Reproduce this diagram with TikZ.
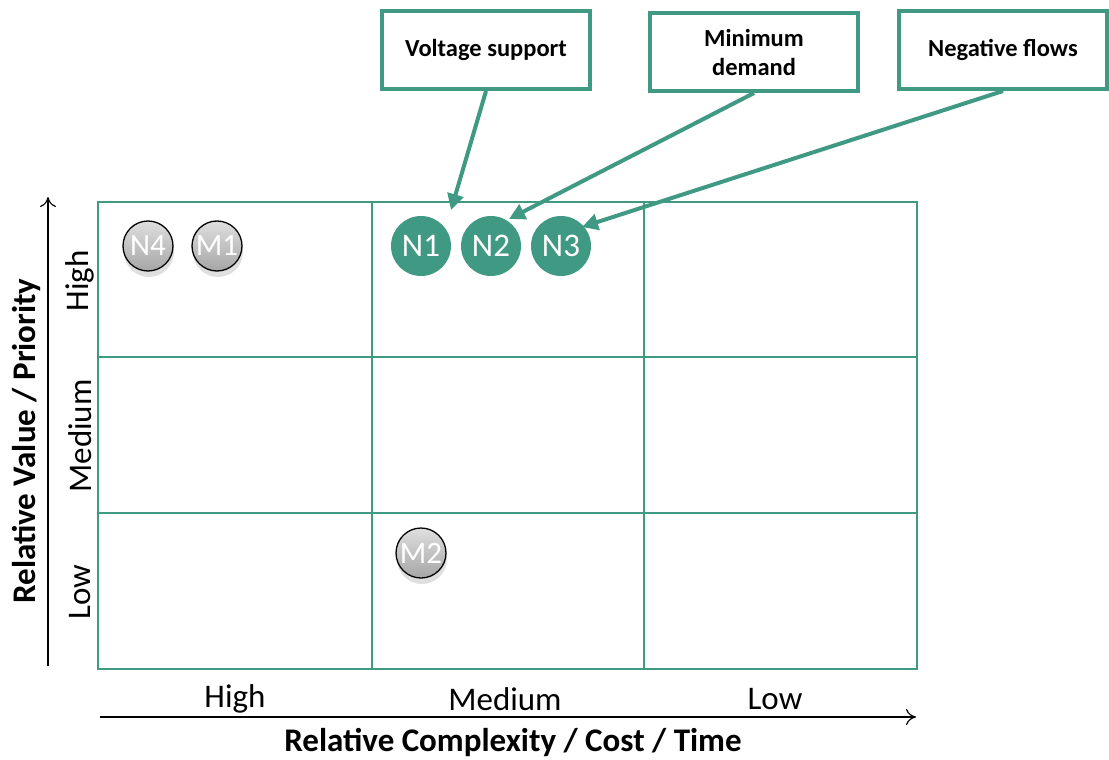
\documentclass[tikz,border=0pt]{standalone}
\usepackage{fontspec}
\setmainfont{Carlito}
\usetikzlibrary{arrows.meta,shadows}
\definecolor{teal1}{RGB}{64,153,131}
\tikzset{
  grid/.style={draw=teal1,line width=1.5pt},
  callout/.style={draw=teal1,line width=4pt,fill=white,minimum width=208pt,minimum height=78pt,align=center,font=\fontsize{24.5}{29}\selectfont\bfseries,text=black},
  pointer/.style={draw=teal1,line width=4pt,-{Triangle[length=16pt,width=16pt]}},
  tealdot/.style={circle,fill=teal1,minimum size=60pt,inner sep=0pt,text=white,font=\fontsize{33}{33}\selectfont},
  graydot/.style={circle,draw=black,line width=1.3pt,top color=gray!25,bottom color=gray!70,minimum size=50pt,inner sep=0pt,text=white,font=\fontsize{31}{31}\selectfont,drop shadow={opacity=0.25,shadow xshift=1pt,shadow yshift=-6pt}},
  axislbl/.style={font=\fontsize{33}{33}\selectfont},
  axistitle/.style={font=\fontsize{33}{33}\selectfont\bfseries},
  axis/.style={draw=black,line width=1.2pt,-{To[length=10pt,width=16pt]}}
}
\begin{document}
\begin{tikzpicture}[x=1pt,y=-1pt]
\useasboundingbox (0,0) rectangle (1109,760);
% grid
\draw[grid] (98,202) rectangle (917,669);
\draw[grid] (372,202) -- (372,669);
\draw[grid] (644,202) -- (644,669);
\draw[grid] (98,357) -- (917,357);
\draw[grid] (98,513) -- (917,513);
% axes
\coordinate (ya) at (48,666);
\coordinate (yb) at (48,197);
\coordinate (xa) at (100,717);
\coordinate (xb) at (916,717);
\draw[axis] (ya) -- (yb);
\draw[axis] (xa) -- (xb);
% axis labels
\node[axislbl,rotate=90] (yh) at (80,281) {High};
\node[axislbl,rotate=90] (ym) at (80,436) {Medium};
\node[axislbl,rotate=90] (yl) at (80,592) {Low};
\node[axislbl] (xh) at (235,699) {High};
\node[axislbl] (xm) at (505,699) {Medium};
\node[axislbl] (xl) at (775,699) {Low};
\node[axistitle,rotate=90] (yt) at (26,441) {Relative Value / Priority};
\node[axistitle] (xt) at (513,742) {Relative Complexity / Cost / Time};
% dots
\node[tealdot] (n1) at (421,246) {N1};
\node[tealdot] (n2) at (491,246) {N2};
\node[tealdot] (n3) at (561,246) {N3};
\node[graydot] (n4) at (148,246) {N4};
\node[graydot] (m1) at (217,246) {M1};
\node[graydot] (m2) at (421,553) {M2};
% callouts
\node[callout] (vs) at (486,50) {Voltage support};
\node[callout] (md) at (754,52) {Minimum\\demand};
\node[callout] (nf) at (1003,50) {Negative flows};
\coordinate (t1) at (451,210);
\coordinate (t2) at (509,219);
\coordinate (t3) at (582,227);
\draw[pointer] (vs.south) -- (t1);
\draw[pointer] (md.south) -- (t2);
\draw[pointer] (nf.south) -- (t3);
\end{tikzpicture}
\end{document}
